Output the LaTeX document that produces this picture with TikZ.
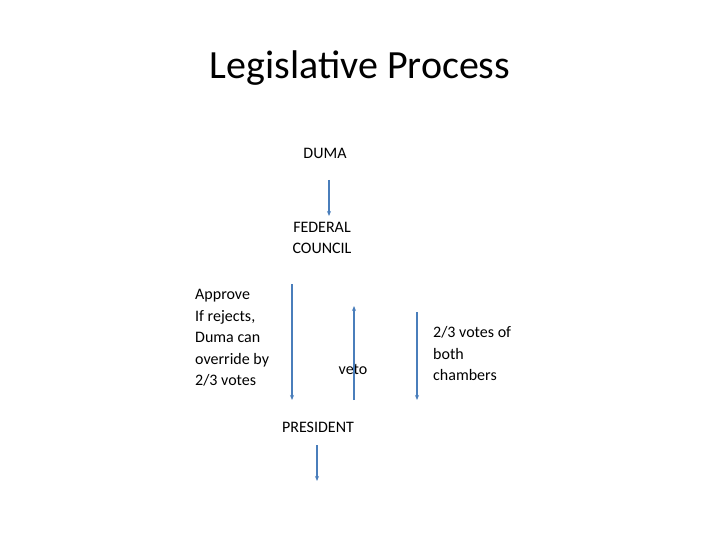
\documentclass[tikz,border=0pt]{standalone}
\usepackage{fontspec}
\setmainfont{Carlito}
\usetikzlibrary{arrows.meta}
\tikzset{conn/.style={draw={rgb,255:red,74;green,126;blue,187},line width=1.3pt,-{Stealth[length=5pt,width=4pt]}},
lbl/.style={font=\fontsize{16}{21.5}\selectfont,align=left,inner sep=0pt}}
\begin{document}
\begin{tikzpicture}[x=1pt,y=-1pt]
\useasboundingbox (0,0) rectangle (720,540);
\node (title) at (360,68) {\fontsize{40}{46}\selectfont Legislative Process};
\node[lbl] (duma) at (325,153) {DUMA};
\node[lbl,align=center] (fc) at (322,238) {FEDERAL\\COUNCIL};
\node[lbl,anchor=west] (left) at (195,338) {Approve\\If rejects,\\Duma can\\override by\\2/3 votes};
\node[lbl] (veto) at (353,369) {veto};
\node[lbl,anchor=west] (right) at (433,354) {2/3 votes of\\both\\chambers};
\node[lbl] (pres) at (318,427) {PRESIDENT};
\coordinate (a1) at (329,180); \coordinate (a2) at (329,216);
\coordinate (b1) at (292,284); \coordinate (b2) at (292,400);
\coordinate (c1) at (354,400); \coordinate (c2) at (354,306);
\coordinate (d1) at (417,312); \coordinate (d2) at (417,400);
\coordinate (e1) at (317,445); \coordinate (e2) at (317,481);
\draw[conn] (a1) -- (a2);
\draw[conn] (b1) -- (b2);
\draw[conn] (c1) -- (c2);
\draw[conn] (d1) -- (d2);
\draw[conn] (e1) -- (e2);
\end{tikzpicture}
\end{document}
